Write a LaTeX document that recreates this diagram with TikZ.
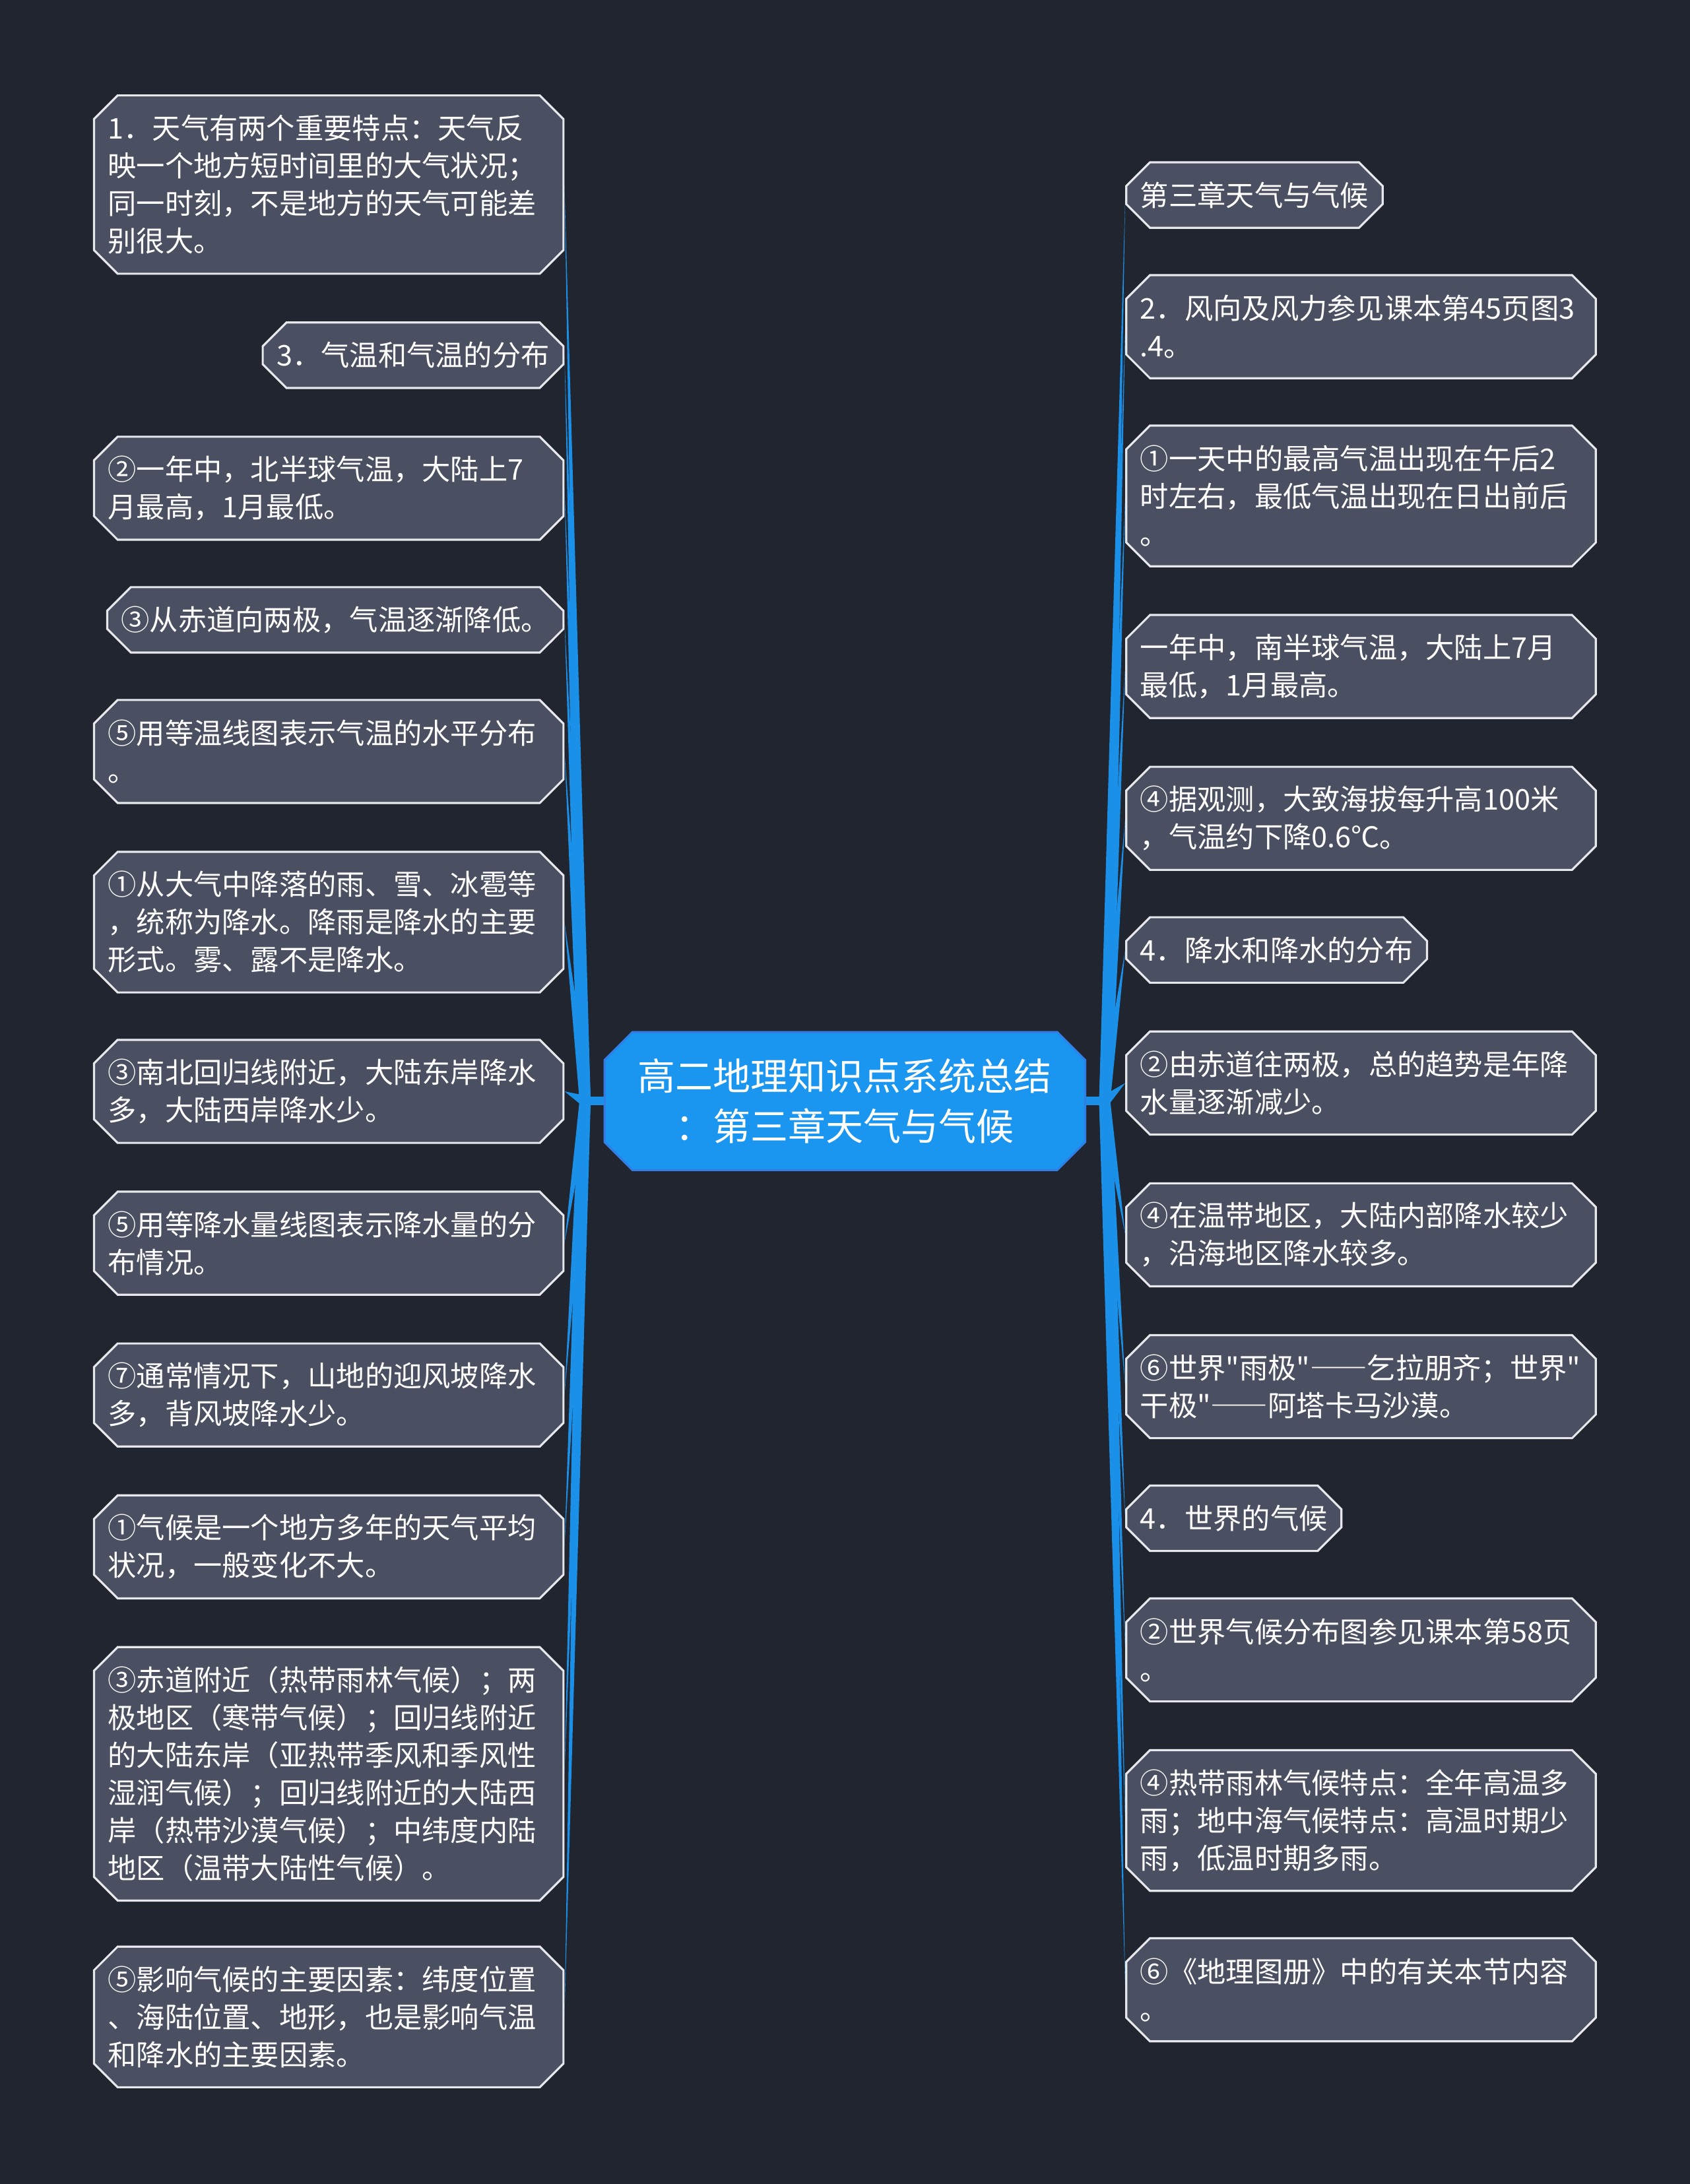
\documentclass[tikz,border=0pt]{standalone}
\usepackage{fontspec}
\setmainfont{Noto Sans CJK SC}[Ligatures=TeXOff]
\usetikzlibrary{shapes.misc,calc}
\definecolor{bgcol}{HTML}{21252F}
\definecolor{cardfill}{HTML}{4A5061}
\definecolor{cardline}{HTML}{E6E8EC}
\definecolor{rootfill}{HTML}{1A96F0}
\definecolor{rootline}{HTML}{2F7FE6}
\definecolor{branchcol}{HTML}{1B90E8}
\pgfdeclarelayer{bg}
\pgfdeclarelayer{links}
\pgfsetlayers{bg,links,main}
\newcommand{\fwdash}{{\addfontfeature{RawFeature=+fwid}——}}
\tikzset{
  card/.style = { chamfered rectangle, chamfered rectangle xsep=8.5pt,
                  chamfered rectangle ysep=8.5pt, draw=cardline,
                  line width=1.5pt, fill=cardfill, text=white,
                  inner xsep=1.5pt, inner ysep=0pt, align=left,
                  font=\fontsize{20.5}{27}\selectfont },
  wide/.style = { text width=317pt },
  rows/.style = { minimum height=27*#1+20 },
  lcard/.style = { card, anchor=north east, xshift=-8.5pt, yshift=-8.5pt },
  rcard/.style = { card, anchor=north west, xshift=8.5pt, yshift=-8.5pt },
  root/.style = { chamfered rectangle, chamfered rectangle xsep=10pt,
                  chamfered rectangle ysep=10pt, draw=rootline,
                  line width=1.5pt, fill=rootfill, text=white,
                  minimum width=345pt, minimum height=99pt, align=center,
                  font=\fontsize{27}{36}\selectfont },
  branch/.style = { fill=branchcol },
  stub/.style = { draw=branchcol, line width=6pt } }

\begin{document}
\begin{tikzpicture}[x=1pt,y=-1pt]
  \begin{pgfonlayer}{bg}
    \fill[bgcol] (0,0) rectangle (1213,1568);
  \end{pgfonlayer}
  \useasboundingbox (0,0) rectangle (1213,1568);

  \node[root] (root) at (606.5,790.5) {高二地理知识点系统总结\\：第三章天气与气候};
  \coordinate (hubL) at (420,790.5);
  \coordinate (hubR) at (793,790.5);

  % left side
  \node[lcard,wide,rows=4] (l1) at (405,68) {1．天气有两个重要特点：天气反\\映一个地方短时间里的大气状况；\\同一时刻，不是地方的天气可能差\\别很大。};
  \node[lcard,rows=1] (l2) at (405,231) {3．气温和气温的分布};
  \node[lcard,wide,rows=2] (l3) at (405,313) {②一年中，北半球气温，大陆上7\\月最高，1月最低。};
  \node[lcard,rows=1] (l4) at (405,421) {③从赤道向两极，气温逐渐降低。};
  \node[lcard,wide,rows=2] (l5) at (405,502) {⑤用等温线图表示气温的水平分布\\。};
  \node[lcard,wide,rows=3] (l6) at (405,611) {①从大气中降落的雨、雪、冰雹等\\，统称为降水。降雨是降水的主要\\形式。雾、露不是降水。};
  \node[lcard,wide,rows=2] (l7) at (405,746) {③南北回归线附近，大陆东岸降水\\多，大陆西岸降水少。};
  \node[lcard,wide,rows=2] (l8) at (405,855) {⑤用等降水量线图表示降水量的分\\布情况。};
  \node[lcard,wide,rows=2] (l9) at (405,964) {⑦通常情况下，山地的迎风坡降水\\多，背风坡降水少。};
  \node[lcard,wide,rows=2] (l10) at (405,1073) {①气候是一个地方多年的天气平均\\状况，一般变化不大。};
  \node[lcard,wide,rows=6] (l11) at (405,1182) {③赤道附近（热带雨林气候）；两\\极地区（寒带气候）；回归线附近\\的大陆东岸（亚热带季风和季风性\\湿润气候）；回归线附近的大陆西\\岸（热带沙漠气候）；中纬度内陆\\地区（温带大陆性气候）。};
  \node[lcard,wide,rows=3] (l12) at (405,1397) {⑤影响气候的主要因素：纬度位置\\、海陆位置、地形，也是影响气温\\和降水的主要因素。};

  % right side
  \node[rcard,rows=1] (r1) at (808,116) {第三章天气与气候};
  \node[rcard,wide,rows=2] (r2) at (808,197) {2．风向及风力参见课本第45页图3\\.4。};
  \node[rcard,wide,rows=3] (r3) at (808,305) {①一天中的最高气温出现在午后2\\时左右，最低气温出现在日出前后\\。};
  \node[rcard,wide,rows=2] (r4) at (808,441) {一年中，南半球气温，大陆上7月\\最低，1月最高。};
  \node[rcard,wide,rows=2] (r5) at (808,550) {④据观测，大致海拔每升高100米\\，气温约下降0.6℃。};
  \node[rcard,rows=1] (r6) at (808,658) {4．降水和降水的分布};
  \node[rcard,wide,rows=2] (r7) at (808,740) {②由赤道往两极，总的趋势是年降\\水量逐渐减少。};
  \node[rcard,wide,rows=2] (r8) at (808,849) {④在温带地区，大陆内部降水较少\\，沿海地区降水较多。};
  \node[rcard,wide,rows=2] (r9) at (808,958) {⑥世界"雨极"\fwdash 乞拉朋齐；世界"\\干极"\fwdash 阿塔卡马沙漠。};
  \node[rcard,rows=1] (r10) at (808,1066) {4．世界的气候};
  \node[rcard,wide,rows=2] (r11) at (808,1147) {②世界气候分布图参见课本第58页\\。};
  \node[rcard,wide,rows=3] (r12) at (808,1256) {④热带雨林气候特点：全年高温多\\雨；地中海气候特点：高温时期少\\雨，低温时期多雨。};
  \node[rcard,wide,rows=2] (r13) at (808,1391) {⑥《地理图册》中的有关本节内容\\。};

  \begin{pgfonlayer}{links}
    \draw[stub] (root.west) -- (hubL);
    \draw[stub] (root.east) -- (hubR);
    \foreach \n in {l1,l2,l3,l4,l5,l6,l7,l8,l9,l10,l11,l12}
      \fill[branch] ($(hubL)!4pt!90:(\n.east)$) -- (\n.east) -- ($(hubL)!4pt!-90:(\n.east)$) -- cycle;
    \foreach \n in {r1,r2,r3,r4,r5,r6,r7,r8,r9,r10,r11,r12,r13}
      \fill[branch] ($(hubR)!4pt!90:(\n.west)$) -- (\n.west) -- ($(hubR)!4pt!-90:(\n.west)$) -- cycle;
  \end{pgfonlayer}
\end{tikzpicture}
\end{document}
